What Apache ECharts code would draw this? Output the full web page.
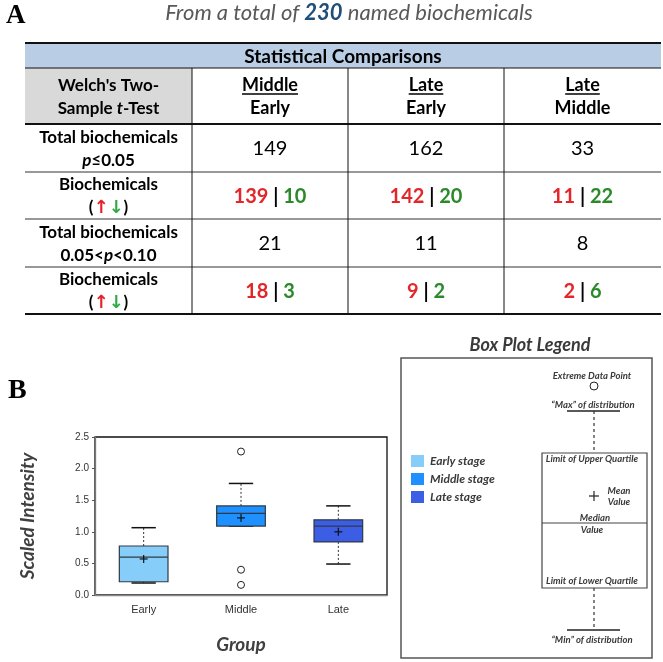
<!DOCTYPE html>
<html><head><meta charset="utf-8">
<script src="https://cdn.jsdelivr.net/npm/echarts@6/dist/echarts.min.js"></script>
<style>html,body{margin:0;padding:0;background:#fff}#c{width:663px;height:662px}</style>
</head><body><div id="c"></div>
<script>
// ---- Data ----
const titleParts = ['From a total of ', '230', ' named biochemicals'];
const comparisonTop = ['Middle', 'Late', 'Late'];
const comparisonBottom = ['Early', 'Early', 'Middle'];
const totalP05 = [149, 162, 33];
const upP05 = [139, 142, 11];
const downP05 = [10, 20, 22];
const totalP10 = [21, 11, 8];
const upP10 = [18, 9, 2];
const downP10 = [3, 2, 6];

const groups = ['Early', 'Middle', 'Late'];
const boxMin = [0.19, 1.09, 0.49];
const boxQ1 = [0.21, 1.09, 0.84];
const boxMedian = [0.60, 1.29, 1.09];
const boxQ3 = [0.775, 1.41, 1.19];
const boxMax = [1.065, 1.765, 1.41];
const boxMean = [0.57, 1.22, 1.00];
const outlierGroup = ['Middle', 'Middle', 'Middle'];
const outlierValue = [2.27, 0.40, 0.16];
const legendLabels = ['Early stage', 'Middle stage', 'Late stage'];

// ---- Styles ----
const F = 'Lato, "DejaVu Sans", sans-serif';
const boxColors = ['#86CDFA', '#1E90FF', '#3C5EE4'];
const RED = '#E3262A', GREEN = '#2A8A2A', RED_A = '#E8202A', GREEN_A = '#2EAA46';

const colX = [25, 192, 348, 504, 661];
const rowY = [43, 68, 124, 172, 219, 267, 314];

const mctx = document.createElement('canvas').getContext('2d');
function measure(text, font) { mctx.font = font; return mctx.measureText(text).width; }

function txt(x, y, text, opts) {
  return { type: 'text', x: x, y: y, silent: true, z: 10,
    style: Object.assign({ text: text, align: 'center', verticalAlign: 'middle',
      textAlign: 'center', textVerticalAlign: 'middle', fontFamily: F, fontSize: 12, fill: '#000' }, opts || {}) };
}
function hline(x1, x2, y, w, color, dash) {
  return { type: 'line', silent: true, z: 5, shape: { x1: x1, y1: y, x2: x2, y2: y },
    style: { stroke: color || '#000', lineWidth: w || 1, lineDash: dash || null } };
}
function vline(x, y1, y2, w, color, dash) {
  return { type: 'line', silent: true, z: 5, shape: { x1: x, y1: y1, x2: x, y2: y2 },
    style: { stroke: color || '#000', lineWidth: w || 1, lineDash: dash || null } };
}

const els = [];
// Panel letters
els.push(txt(6, 16, 'A', { align: 'left', textAlign: 'left', fontFamily: '"Liberation Serif", serif', fontWeight: 'bold', fontSize: 27 }));
els.push(txt(8, 391, 'B', { align: 'left', textAlign: 'left', fontFamily: '"Liberation Serif", serif', fontWeight: 'bold', fontSize: 28 }));
// Title
els.push(txt(349, 13, '{n|' + titleParts[0] + '}{h|' + titleParts[1] + '}{n|' + titleParts[2] + '}', {
  rich: {
    n: { fontFamily: F, fontStyle: 'italic', fontSize: 22, fill: '#595959' },
    h: { fontFamily: F, fontStyle: 'italic', fontWeight: 'bold', fontSize: 22, fill: '#1F4E79' }
  }
}));

// Table backgrounds
els.push({ type: 'rect', silent: true, z: 1, shape: { x: colX[0], y: rowY[0], width: colX[4] - colX[0], height: rowY[1] - rowY[0] }, style: { fill: '#B9CDE5' } });
els.push({ type: 'rect', silent: true, z: 1, shape: { x: colX[0], y: rowY[1], width: colX[1] - colX[0], height: rowY[2] - rowY[1] }, style: { fill: '#D9D9D9' } });
// Table lines
els.push(hline(colX[0], colX[4], rowY[0], 2, '#111'));
els.push(hline(colX[0], colX[4], rowY[1], 1, '#111'));
els.push(hline(colX[0], colX[4], rowY[2], 2, '#111'));
for (let r = 3; r <= 5; r++) els.push(hline(colX[0], colX[4], rowY[r], 1, '#333'));
els.push(hline(colX[0], colX[4], rowY[6], 2, '#111'));
for (let c = 1; c <= 3; c++) els.push(vline(colX[c], rowY[1], rowY[6], 1, '#111'));

els.push(txt((colX[0] + colX[4]) / 2, (rowY[0] + rowY[1]) / 2 + 1, 'Statistical Comparisons', { fontWeight: 'bold', fontSize: 19 }));

const rb = { fontFamily: F, fontWeight: 'bold', fontSize: 17, fill: '#000', lineHeight: 23 };
const rbi = Object.assign({}, rb, { fontStyle: 'italic' });
const ru = Object.assign({}, rb, { fill: RED_A, fontFamily: '"DejaVu Sans", sans-serif', fontSize: 18 });
const rd = Object.assign({}, rb, { fill: GREEN_A, fontFamily: '"DejaVu Sans", sans-serif', fontSize: 18 });
const richRow = { b: rb, i: rbi, u: ru, d: rd };
const hx = (colX[0] + colX[1]) / 2;
els.push(txt(hx, (rowY[1] + rowY[2]) / 2 + 1, "{b|Welch's Two-}\n{b|Sample }{i|t}{b|-Test}", { rich: richRow }));
const rowLabels = [
  '{b|Total biochemicals}\n{i|p}{b|≤0.05}',
  '{b|Biochemicals}\n{b|(}{u|↑}{d|↓}{b|)}',
  '{b|Total biochemicals}\n{b|0.05<}{i|p}{b|<0.10}',
  '{b|Biochemicals}\n{b|(}{u|↑}{d|↓}{b|)}'
];
for (let r = 0; r < 4; r++) {
  els.push(txt(hx, (rowY[r + 2] + rowY[r + 3]) / 2 + 1, rowLabels[r], { rich: richRow }));
}
// Column headers
const hFont = 'bold 18px ' + F;
for (let c = 0; c < 3; c++) {
  const cx = (colX[c + 1] + colX[c + 2]) / 2;
  els.push(txt(cx, 85, comparisonTop[c], { fontWeight: 'bold', fontSize: 18 }));
  const w = measure(comparisonTop[c], hFont);
  els.push(hline(cx - w / 2, cx + w / 2, 94, 1.3, '#000'));
  els.push(txt(cx, 108, comparisonBottom[c], { fontWeight: 'bold', fontSize: 18 }));
}
// Cells
const cellRich = {
  r: { fontFamily: F, fontWeight: 'bold', fontSize: 20, fill: RED },
  g: { fontFamily: F, fontWeight: 'bold', fontSize: 20, fill: GREEN },
  k: { fontFamily: F, fontWeight: 'bold', fontSize: 20, fill: '#000' }
};
for (let c = 0; c < 3; c++) {
  const cx = (colX[c + 1] + colX[c + 2]) / 2;
  const yc = r => (rowY[r] + rowY[r + 1]) / 2 + 1;
  els.push(txt(cx, yc(2), String(totalP05[c]), { fontSize: 20 }));
  els.push(txt(cx, yc(3), '{r|' + upP05[c] + '}{k| | }{g|' + downP05[c] + '}', { rich: cellRich }));
  els.push(txt(cx, yc(4), String(totalP10[c]), { fontSize: 20 }));
  els.push(txt(cx, yc(5), '{r|' + upP10[c] + '}{k| | }{g|' + downP10[c] + '}', { rich: cellRich }));
}

// ---- Box plot legend panel ----
const LG = '#3A3A3A';
const li = { fontStyle: 'italic', fontWeight: 'bold', fill: LG };
els.push(txt(530, 345, 'Box Plot Legend', Object.assign({ fontSize: 18 }, li)));
els.push({ type: 'rect', silent: true, z: 2, shape: { x: 401, y: 358, width: 251, height: 300 }, style: { fill: 'none', stroke: '#555', lineWidth: 1.5 } });
const swY = [461, 479, 497];
for (let k = 0; k < 3; k++) {
  els.push({ type: 'rect', silent: true, z: 3, shape: { x: 411, y: swY[k] - 6, width: 13, height: 12 }, style: { fill: boxColors[k] } });
  els.push(txt(430, swY[k], legendLabels[k], Object.assign({ align: 'left', textAlign: 'left', fontSize: 12 }, li)));
}
const lc = 594;
els.push(txt(592, 376, 'Extreme Data Point', Object.assign({ fontSize: 9.5 }, li)));
els.push({ type: 'circle', silent: true, z: 4, shape: { cx: lc, cy: 386, r: 4 }, style: { fill: '#fff', stroke: '#222', lineWidth: 1 } });
els.push(txt(593, 405, '\u201cMax\u201d of distribution', Object.assign({ fontSize: 9.5 }, li)));
els.push(hline(567, 620, 411, 1.3, '#222'));
els.push(vline(lc, 411, 453, 1.2, '#333', [3, 3]));
els.push({ type: 'rect', silent: true, z: 4, shape: { x: 542, y: 453, width: 105, height: 135 }, style: { fill: 'none', stroke: '#444', lineWidth: 1.2 } });
els.push(txt(592, 459, 'Limit of Upper Quartile', Object.assign({ fontSize: 9.5 }, li)));
els.push(hline(lc - 5, lc + 5, 496, 1.2, '#222'));
els.push(vline(lc, 491, 501, 1.2, '#222'));
els.push(txt(619, 496, 'Mean\nValue', Object.assign({ fontSize: 9.5, lineHeight: 11 }, li)));
els.push(hline(542, 647, 523, 1.2, '#444'));
els.push(txt(595, 518, 'Median', Object.assign({ fontSize: 9.5 }, li)));
els.push(txt(592, 530, 'Value', Object.assign({ fontSize: 9.5 }, li)));
els.push(txt(592, 581, 'Limit of Lower Quartile', Object.assign({ fontSize: 9.5 }, li)));
els.push(vline(lc, 588, 630, 1.2, '#333', [3, 3]));
els.push(hline(567, 620, 630, 1.3, '#222'));
els.push(txt(592, 640, '\u201cMin\u201d of distribution', Object.assign({ fontSize: 9.5 }, li)));

// ---- Chart ----
const chart = echarts.init(document.getElementById('c'), null, { renderer: 'canvas' });
chart.setOption({
  animation: false,
  backgroundColor: '#fff',
  grid: { left: 95, top: 437, width: 292, height: 158, show: true, borderColor: '#111', borderWidth: 1.3, backgroundColor: 'transparent' },
  xAxis: {
    type: 'category', data: groups, boundaryGap: true,
    axisLine: { lineStyle: { color: '#888', width: 1.3 } },
    axisTick: { alignWithLabel: true, length: 4, lineStyle: { color: '#555' } },
    axisLabel: { fontSize: 11, color: '#333', fontFamily: 'Arial, "Liberation Sans", sans-serif', margin: 9 },
    name: 'Group', nameLocation: 'middle', nameGap: 40,
    nameTextStyle: { fontFamily: F, fontStyle: 'italic', fontWeight: 'bold', fontSize: 19, color: '#404040' }
  },
  yAxis: {
    type: 'value', min: 0, max: 2.5, interval: 0.5,
    axisLine: { show: true, lineStyle: { color: '#777', width: 1.3 } },
    axisTick: { show: true, length: 3, lineStyle: { color: '#555' } },
    splitLine: { show: false },
    axisLabel: { fontSize: 10, color: '#333', fontFamily: 'Arial, "Liberation Sans", sans-serif', margin: 6, formatter: v => v.toFixed(1) },
    name: 'Scaled Intensity', nameLocation: 'middle', nameGap: 48, nameRotate: 90,
    nameTextStyle: { fontFamily: F, fontStyle: 'italic', fontWeight: 'bold', fontSize: 19, color: '#404040', padding: [0, 0, 10, 0] }
  },
  series: [{
    type: 'custom',
    data: groups.map((g, i) => [i, boxMin[i], boxQ1[i], boxMedian[i], boxQ3[i], boxMax[i], boxMean[i]]),
    encode: { x: 0, y: [1, 2, 3, 4, 5, 6] },
    renderItem: function (params, api) {
      const i = api.value(0);
      const c = v => api.coord([i, v]);
      const band = api.size([1, 0])[0];
      const bw = band * 0.5, cw = bw * 0.5;
      const pMin = c(api.value(1)), pQ1 = c(api.value(2)), pMed = c(api.value(3));
      const pQ3 = c(api.value(4)), pMax = c(api.value(5)), pMean = c(api.value(6));
      const cx = pQ1[0];
      const dash = { stroke: '#333', lineWidth: 1, lineDash: [2, 2] };
      const cap = { stroke: '#111', lineWidth: 1.5 };
      return { type: 'group', children: [
        { type: 'line', shape: { x1: cx, y1: pQ3[1], x2: cx, y2: pMax[1] }, style: dash },
        { type: 'line', shape: { x1: cx, y1: pQ1[1], x2: cx, y2: pMin[1] }, style: dash },
        { type: 'line', shape: { x1: cx - cw / 2, y1: pMax[1], x2: cx + cw / 2, y2: pMax[1] }, style: cap },
        { type: 'line', shape: { x1: cx - cw / 2, y1: pMin[1], x2: cx + cw / 2, y2: pMin[1] }, style: cap },
        { type: 'rect', shape: { x: cx - bw / 2, y: pQ3[1], width: bw, height: pQ1[1] - pQ3[1] }, style: { fill: boxColors[i], stroke: '#2f3a45', lineWidth: 1.2 } },
        { type: 'line', shape: { x1: cx - bw / 2, y1: pMed[1], x2: cx + bw / 2, y2: pMed[1] }, style: { stroke: '#2f3a45', lineWidth: 1.2 } },
        { type: 'line', shape: { x1: cx - 4, y1: pMean[1], x2: cx + 4, y2: pMean[1] }, style: { stroke: '#111', lineWidth: 1.2 } },
        { type: 'line', shape: { x1: cx, y1: pMean[1] - 4, x2: cx, y2: pMean[1] + 4 }, style: { stroke: '#111', lineWidth: 1.2 } }
      ] };
    },
    z: 3
  }, {
    type: 'scatter',
    data: outlierGroup.map((g, i) => [g, outlierValue[i]]),
    symbol: 'circle', symbolSize: 7,
    itemStyle: { color: '#fff', borderColor: '#222', borderWidth: 1, opacity: 1 },
    z: 4
  }],
  graphic: { elements: els }
});
</script></body></html>
